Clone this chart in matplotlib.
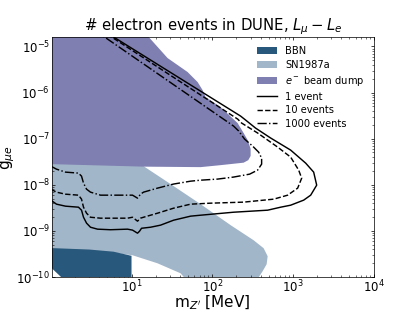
import matplotlib
matplotlib.use("Agg")
import matplotlib.pyplot as plt

# --- excluded regions (m_Z' [MeV], g_mu_e) ---
bbn_m = [1.0, 3.0, 6.0, 10.0, 10.0, 1.52, 1.0]
bbn_g = [4.2e-10, 3.9e-10, 3.5e-10, 2.85e-10, 8e-11, 8e-11, 1.6e-10]

sn_m = [1.0, 13.0, 14.09, 30.5, 71.8, 169.2, 326, 434, 487, 473, 422, 350,
        49.5, 40.5, 21.0, 10.29, 4.13, 1.0]
sn_g = [3.2e-8, 3.0e-8, 2.52e-8, 1.03e-8, 3.77e-9, 1.32e-9, 6.21e-10, 4.17e-10,
        2.79e-10, 1.87e-10, 1.32e-10, 8e-11, 8e-11, 1.19e-10, 1.96e-10,
        2.93e-10, 3.6e-10, 3.8e-10]

dump_m = [1.0, 14.1, 16.3, 28.0, 49.5, 65.9, 76.0, 82.8, 127, 206.6, 245.3,
          275, 299.5, 299.5, 280, 245.3, 127, 71.8, 14.1, 1.0]
dump_g = [2.0e-5, 2.0e-5, 1.61e-5, 5.6e-6, 2.79e-6, 1.69e-6, 1.13e-6, 7.98e-7,
          4.84e-7, 2.17e-7, 1.32e-7, 9.3e-8, 6.0e-8, 4.2e-8, 3.4e-8, 3.0e-8,
          2.65e-8, 2.40e-8, 2.46e-8, 2.79e-8]

# --- DUNE event contours ---
ev1_m = [1.0, 1.174, 1.518, 2.20, 2.40, 2.54, 2.77, 3.10, 3.79, 5.49, 8.92,
         10.29, 11.87, 12.57, 13.31, 17.2, 22.9, 33.2, 54.0, 71.8, 184, 487,
         706, 939, 1362, 1663, 1974, 1811, 1442, 939, 530, 345, 260, 225,
         5.98, 4.37]
ev1_g = [4.61e-9, 3.77e-9, 3.41e-9, 3.24e-9, 2.79e-9, 1.96e-9, 1.46e-9,
         1.19e-9, 1.08e-9, 1.05e-9, 1.08e-9, 1.03e-9, 8.83e-10, 9.75e-10,
         1.13e-9, 1.19e-9, 1.32e-9, 1.69e-9, 2.07e-9, 2.17e-9, 2.52e-9,
         2.79e-9, 3.24e-9, 3.58e-9, 4.61e-9, 5.91e-9, 9.75e-9, 1.87e-8,
         2.93e-8, 5.62e-8, 1.03e-7, 1.69e-7, 2.52e-7, 3.08e-7, 1.61e-5, 2.29e-5]

ev10_m = [1.0, 1.174, 1.518, 2.20, 2.40, 2.54, 2.77, 3.10, 4.13, 8.92, 10.29,
          11.87, 12.93, 14.09, 21.0, 33.2, 54.0, 95.5, 245, 578, 862, 1147,
          1286, 1180, 939, 648, 366, 232, 207, 5.65, 4.13]
ev10_g = [7.98e-9, 6.87e-9, 6.21e-9, 5.91e-9, 4.84e-9, 3.24e-9, 2.40e-9,
          1.96e-9, 1.87e-9, 1.87e-9, 1.96e-9, 1.61e-9, 1.87e-9, 1.96e-9,
          2.40e-9, 3.08e-9, 3.77e-9, 3.96e-9, 4.17e-9, 4.84e-9, 5.91e-9,
          8.40e-9, 1.38e-8, 2.07e-8, 3.96e-8, 6.53e-8, 1.32e-7, 2.17e-7,
          2.65e-7, 1.61e-5, 2.29e-5]

ev1000_m = [1.0, 1.174, 1.518, 2.20, 2.40, 2.54, 2.77, 3.10, 4.13, 8.92, 10.29,
            11.87, 12.93, 14.09, 21.0, 33.2, 54.0, 71.8, 116.7, 184, 291, 366,
            410, 410, 376, 317, 252, 213, 184, 4.62, 3.57]
ev1000_g = [2.52e-8, 2.17e-8, 1.87e-8, 1.78e-8, 1.53e-8, 1.08e-8, 7.98e-9,
            6.87e-9, 5.91e-9, 5.91e-9, 5.91e-9, 5.09e-9, 6.21e-9, 6.87e-9,
            8.40e-9, 1.03e-8, 1.19e-8, 1.25e-8, 1.32e-8, 1.46e-8, 1.69e-8,
            2.07e-8, 2.79e-8, 3.77e-8, 5.09e-8, 6.87e-8, 9.75e-8, 1.46e-7,
            1.87e-7, 1.61e-5, 2.17e-5]

fig, ax = plt.subplots(figsize=(6.4, 4.8), dpi=64.85)

ax.fill(sn_m, sn_g, color="#a2b6c9", lw=0, label="SN1987a", zorder=1)
ax.fill(bbn_m, bbn_g, color="#28587b", lw=0, label="BBN", zorder=2)
ax.fill(dump_m, dump_g, color="#7f7fb2", lw=0, label=r"$e^-$ beam dump", zorder=2)

ax.plot(ev1_m, ev1_g, "k-", lw=1.6, label="1 event", zorder=3)
ax.plot(ev10_m, ev10_g, "k--", lw=1.6, label="10 events", zorder=3)
ax.plot(ev1000_m, ev1000_g, "k-.", lw=1.6, label="1000 events", zorder=3)

ax.set_xscale("log")
ax.set_yscale("log")
ax.set_xlim(1.03, 1e4)
ax.set_ylim(1e-10, 1.6e-5)
ax.tick_params(which="both", direction="in", top=True, right=True, labelsize=13,
               pad=2)

handles, labels = ax.get_legend_handles_labels()
order = [labels.index(s) for s in ["BBN", "SN1987a", r"$e^-$ beam dump",
                                   "1 event", "10 events", "1000 events"]]
ax.legend([handles[i] for i in order], [labels[i] for i in order],
          loc="upper right", frameon=False, fontsize=11, labelspacing=0.38)

ax.set_xlabel(r"m$_{Z'}$ [MeV]", fontsize=17, labelpad=-2)
ax.set_ylabel(r"g$_{\mu e}$", fontsize=17, labelpad=-1)
ax.set_title(r"# electron events in DUNE, $L_\mu - L_e$", fontsize=16.5)

plt.savefig("out.png", dpi=64.85)
